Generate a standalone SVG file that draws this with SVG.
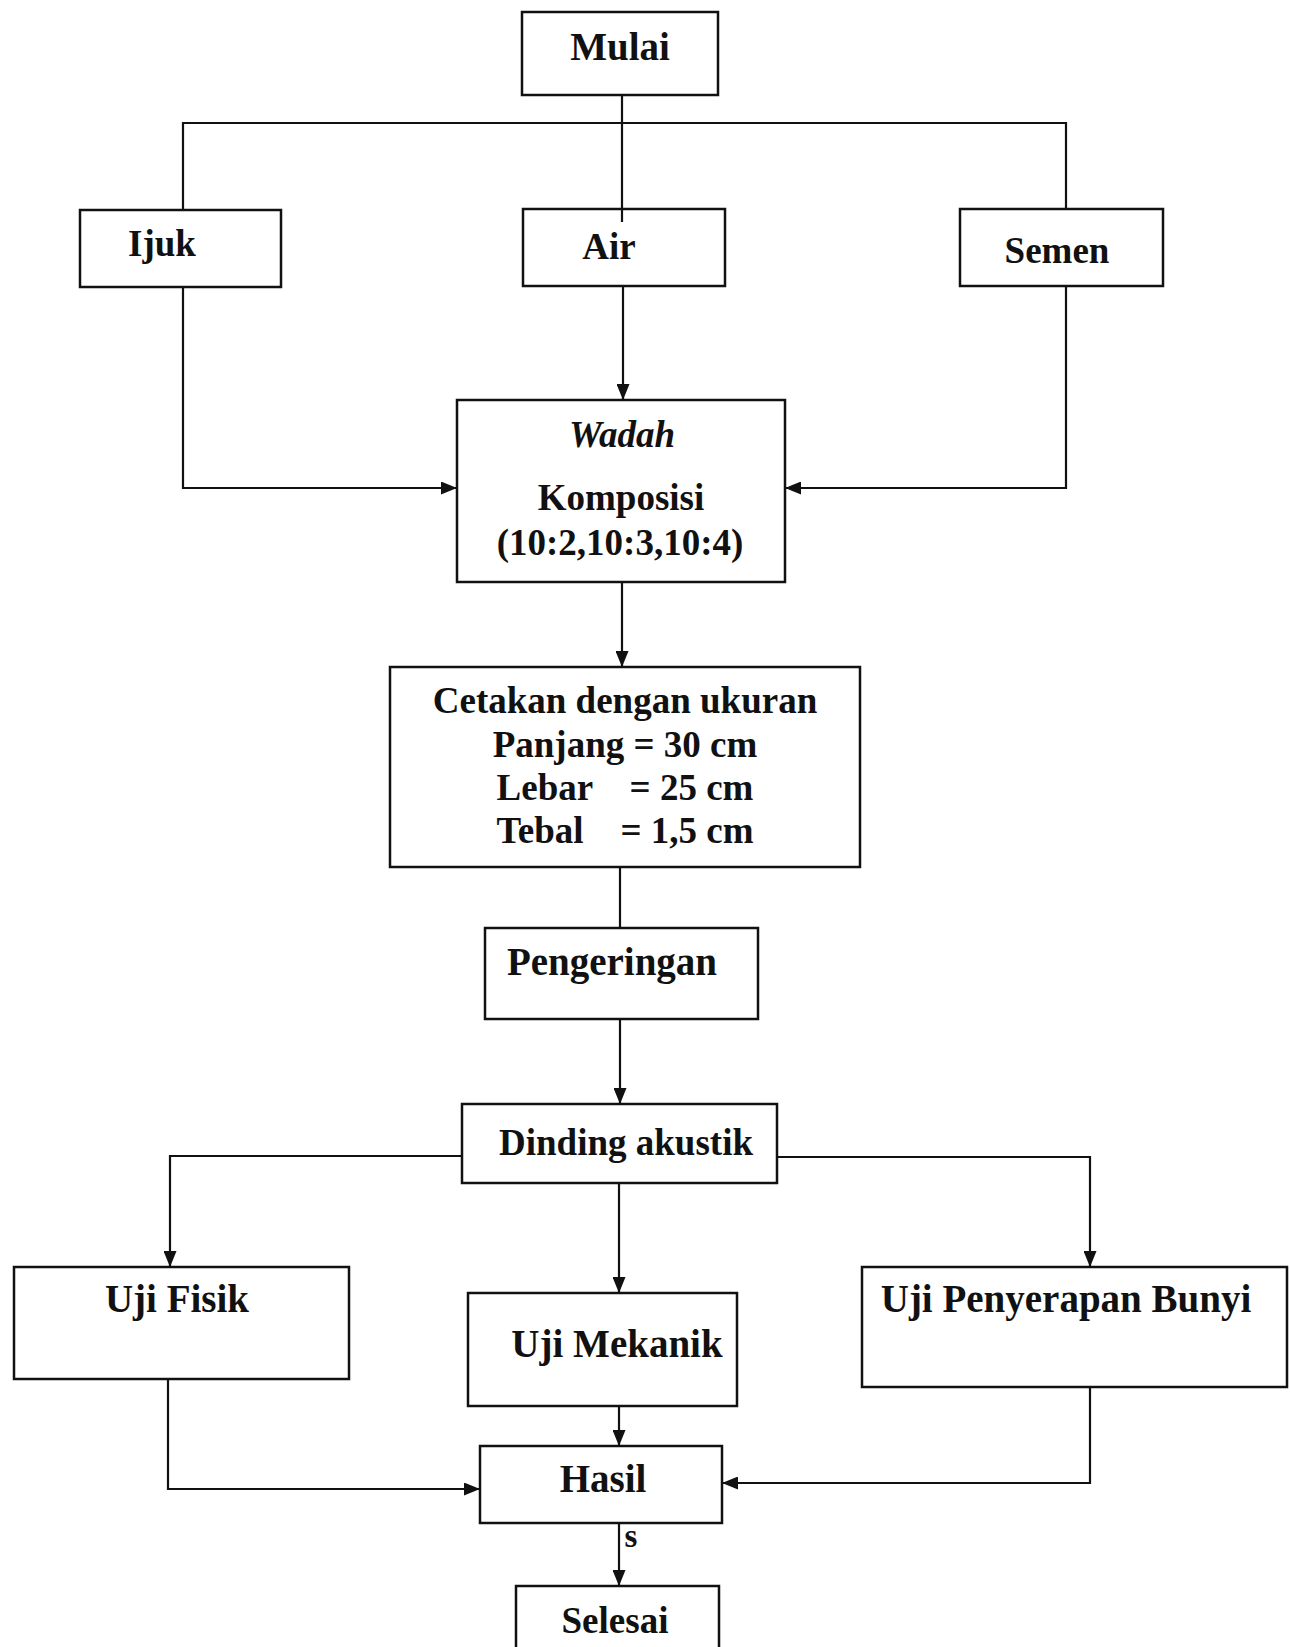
<svg xmlns="http://www.w3.org/2000/svg" width="1290" height="1647" viewBox="0 0 1290 1647">
<style>
.box{fill:#fff;stroke:#111;stroke-width:2.5}
.ln{fill:none;stroke:#111;stroke-width:2.2}
.t{font-family:"Liberation Serif","Times New Roman",serif;font-weight:bold;fill:#111;text-anchor:middle;font-size:37px}
.b{font-size:39px}
</style>
<defs>
<marker id="arr" viewBox="0 0 16 13" refX="16" refY="6.5" markerWidth="16" markerHeight="13" orient="auto" markerUnits="userSpaceOnUse">
<path d="M0,0 L16,6.5 L0,13 z" fill="#111"/>
</marker>
</defs>
<rect width="1290" height="1647" fill="#fff"/>
<g id="mulai"><rect class="box" x="522" y="12" width="196" height="83"/><text class="t" x="620" y="60" style="font-size:39px">Mulai</text></g>
<g id="ijuk"><rect class="box" x="80" y="210" width="201" height="77"/><text class="t" x="162" y="256">Ijuk</text></g>
<g id="air"><rect class="box" x="523" y="209" width="202" height="77"/><text class="t" x="609" y="259">Air</text></g>
<g id="semen"><rect class="box" x="960" y="209" width="203" height="77"/><text class="t" x="1057" y="263">Semen</text></g>
<g id="wadah"><rect class="box" x="457" y="400" width="328" height="182"/>
<text class="t" x="622" y="447" style="font-style:italic">Wadah</text>
<text class="t" x="621" y="510">Komposisi</text>
<text class="t" x="620" y="555">(10:2,10:3,10:4)</text></g>
<g id="cetakan"><rect class="box" x="390" y="667" width="470" height="200"/>
<text class="t" x="625" y="713">Cetakan dengan ukuran</text>
<text class="t" x="625" y="757">Panjang = 30 cm</text>
<text class="t" x="625" y="800" xml:space="preserve">Lebar    = 25 cm</text>
<text class="t" x="625" y="843" xml:space="preserve">Tebal    = 1,5 cm</text></g>
<g id="pengeringan"><rect class="box" x="485" y="928" width="273" height="91"/><text class="t b" x="612" y="975">Pengeringan</text></g>
<g id="dinding"><rect class="box" x="462" y="1104" width="315" height="79"/><text class="t" x="626" y="1155">Dinding akustik</text></g>
<g id="ujifisik"><rect class="box" x="14" y="1267" width="335" height="112"/><text class="t b" x="177" y="1312">Uji Fisik</text></g>
<g id="ujimekanik"><rect class="box" x="468" y="1293" width="269" height="113"/><text class="t b" x="617" y="1357">Uji Mekanik</text></g>
<g id="ujipenyerapan"><rect class="box" x="862" y="1267" width="425" height="120"/><text class="t b" x="1066" y="1312">Uji Penyerapan Bunyi</text></g>
<g id="hasil"><rect class="box" x="480" y="1446" width="242" height="77"/><text class="t b" x="603" y="1492">Hasil</text></g>
<g id="selesai"><rect class="box" x="516" y="1586" width="203" height="80"/><text class="t" x="615" y="1633">Selesai</text></g>
<g id="connectors">
<path class="ln" d="M622,95 V222"/>
<path class="ln" d="M183,210 V123 H1066 V209"/>
<path class="ln" d="M183,287 V488 H457" marker-end="url(#arr)"/>
<path class="ln" d="M623,286 V400" marker-end="url(#arr)"/>
<path class="ln" d="M1066,286 V488 H785" marker-end="url(#arr)"/>
<path class="ln" d="M622,582 V667" marker-end="url(#arr)"/>
<path class="ln" d="M620,867 V928"/>
<path class="ln" d="M620,1019 V1104" marker-end="url(#arr)"/>
<path class="ln" d="M462,1156 H170 V1267" marker-end="url(#arr)"/>
<path class="ln" d="M777,1157 H1090 V1267" marker-end="url(#arr)"/>
<path class="ln" d="M619,1183 V1293" marker-end="url(#arr)"/>
<path class="ln" d="M168,1379 V1489 H480" marker-end="url(#arr)"/>
<path class="ln" d="M619,1406 V1446" marker-end="url(#arr)"/>
<path class="ln" d="M1090,1387 V1483 H722" marker-end="url(#arr)"/>
<path class="ln" d="M619,1523 V1586" marker-end="url(#arr)"/>
<text class="t" x="631" y="1547" style="font-size:33px">s</text>
</g>
</svg>
